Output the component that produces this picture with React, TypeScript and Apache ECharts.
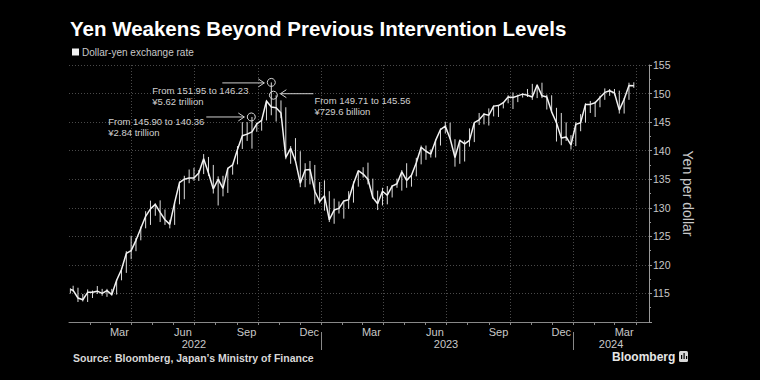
import React, { useEffect, useRef } from "react";
import * as echarts from "echarts";

// Weekly dollar-yen readings (date, weekly low, weekly high, close)
const weekDates = [
  "2022-01-03", "2022-01-07", "2022-01-14", "2022-01-21", "2022-01-28", "2022-02-04", "2022-02-11", "2022-02-18", "2022-02-25",
  "2022-03-04", "2022-03-11", "2022-03-18", "2022-03-25", "2022-04-01", "2022-04-08", "2022-04-15", "2022-04-22", "2022-04-29",
  "2022-05-06", "2022-05-13", "2022-05-20", "2022-05-27", "2022-06-03", "2022-06-10", "2022-06-17", "2022-06-24", "2022-07-01",
  "2022-07-08", "2022-07-15", "2022-07-22", "2022-07-29", "2022-08-05", "2022-08-12", "2022-08-19", "2022-08-26", "2022-09-02",
  "2022-09-09", "2022-09-16", "2022-09-23", "2022-09-30", "2022-10-07", "2022-10-14", "2022-10-21", "2022-10-28", "2022-11-04",
  "2022-11-11", "2022-11-18", "2022-11-25", "2022-12-02", "2022-12-09", "2022-12-16", "2022-12-23", "2022-12-30",
  "2023-01-06", "2023-01-13", "2023-01-20", "2023-01-27", "2023-02-03", "2023-02-10", "2023-02-17", "2023-02-24", "2023-03-03",
  "2023-03-10", "2023-03-17", "2023-03-24", "2023-03-31", "2023-04-07", "2023-04-14", "2023-04-21", "2023-04-28", "2023-05-05",
  "2023-05-12", "2023-05-19", "2023-05-26", "2023-06-02", "2023-06-09", "2023-06-16", "2023-06-23", "2023-06-30", "2023-07-07",
  "2023-07-14", "2023-07-21", "2023-07-28", "2023-08-04", "2023-08-11", "2023-08-18", "2023-08-25", "2023-09-01", "2023-09-08",
  "2023-09-15", "2023-09-22", "2023-09-29", "2023-10-06", "2023-10-13", "2023-10-20", "2023-10-27", "2023-11-03", "2023-11-10",
  "2023-11-17", "2023-11-24", "2023-12-01", "2023-12-08", "2023-12-15", "2023-12-22", "2023-12-29",
  "2024-01-05", "2024-01-12", "2024-01-19", "2024-01-26", "2024-02-02", "2024-02-09", "2024-02-16", "2024-02-23", "2024-03-01",
  "2024-03-08", "2024-03-15", "2024-03-22", "2024-03-29",
];
const weekLow = [
  115.0, 115.3, 113.5, 113.6, 113.5, 114.2, 114.9, 114.6, 114.4,
  114.6, 114.8, 117.3, 118.6, 121.0, 122.4, 124.3, 126.4, 127.0,
  128.6, 127.5, 127.0, 126.4, 127.0, 130.6, 131.5, 134.3, 134.7,
  134.7, 135.9, 135.6, 132.5, 130.4, 132.0, 132.6, 135.8, 137.6,
  140.3, 141.7, 140.35, 143.3, 143.5, 145.3, 146.2, 145.1, 145.7,
  138.5, 137.7, 137.9, 133.6, 133.6, 134.1, 130.6, 130.8,
  129.5, 127.5, 127.2, 129.0, 128.1, 129.8, 130.9, 133.7, 135.3,
  134.1, 131.6, 129.6, 130.4, 130.6, 131.8, 133.5, 133.0, 133.5,
  133.7, 135.5, 137.6, 138.4, 138.8, 138.8, 140.9, 143.0, 142.0,
  137.2, 137.7, 138.1, 140.7, 141.5, 144.5, 144.6, 144.4, 146.0,
  145.9, 147.4, 148.3, 147.3, 148.5, 149.3, 149.4, 148.9, 149.2,
  149.2, 147.2, 146.7, 141.6, 140.95, 141.7, 140.2,
  140.8, 143.4, 144.9, 146.6, 145.9, 147.6, 148.9, 149.6, 149.7,
  146.5, 146.5, 148.9, 151.0,
];
const weekHigh = [
  115.9, 116.35, 116.0, 114.9, 115.7, 115.5, 116.3, 115.8, 115.8,
  115.8, 117.4, 119.4, 122.4, 125.1, 124.7, 126.7, 129.4, 131.25,
  130.8, 131.3, 129.7, 127.9, 130.9, 134.6, 135.6, 136.7, 137.0,
  136.6, 139.4, 138.9, 137.5, 135.5, 135.6, 137.0, 137.7, 140.8,
  145.0, 145.0, 145.9, 144.9, 145.4, 148.9, 151.95, 149.7, 148.8,
  147.6, 140.8, 142.2, 139.9, 137.8, 138.2, 137.5, 134.5,
  134.8, 132.9, 131.6, 131.1, 131.2, 132.9, 134.6, 136.5, 137.1,
  137.9, 135.1, 133.0, 133.5, 133.8, 134.0, 135.1, 136.6, 137.8,
  135.8, 138.75, 140.9, 140.9, 140.2, 141.9, 143.9, 145.07, 144.9,
  142.0, 141.95, 141.8, 143.9, 144.9, 146.6, 146.6, 147.4, 147.9,
  147.95, 148.5, 149.7, 150.2, 149.8, 150.0, 150.8, 151.7, 151.6,
  151.9, 149.8, 149.7, 147.5, 146.6, 144.96, 142.7,
  145.0, 146.4, 148.3, 148.7, 148.6, 149.6, 150.9, 150.8, 150.8,
  150.5, 149.2, 151.9, 151.97,
];
const weekClose = [
  115.7, 115.55, 114.2, 113.9, 115.2, 115.2, 115.4, 115.0, 115.5,
  114.8, 117.3, 119.2, 122.0, 122.5, 124.3, 126.4, 128.5, 129.8,
  130.6, 129.2, 127.9, 127.1, 130.9, 134.4, 135.0, 135.2, 135.2,
  136.1, 138.6, 136.1, 133.3, 135.0, 133.4, 136.9, 137.5, 140.2,
  142.6, 142.9, 143.3, 144.7, 145.3, 148.7, 147.65, 147.5, 146.6,
  138.8, 140.4, 138.2, 134.3, 136.6, 136.7, 132.9, 131.1,
  132.1, 127.9, 129.6, 129.9, 131.2, 131.4, 134.2, 136.5, 135.9,
  135.0, 131.8, 130.7, 132.9, 132.2, 133.8, 134.2, 136.3, 134.8,
  135.7, 137.9, 140.6, 139.9, 139.4, 141.8, 143.7, 144.3, 142.1,
  138.8, 141.8, 141.2, 141.8, 144.9, 145.4, 146.4, 146.2, 147.8,
  147.9, 148.4, 149.4, 149.3, 149.6, 149.9, 149.7, 149.4, 151.5,
  149.6, 149.4, 146.8, 144.9, 142.2, 142.4, 141.0,
  144.6, 144.9, 148.1, 148.1, 148.4, 149.3, 150.2, 150.5, 150.1,
  147.1, 149.0, 151.4, 151.35,
];

const interventions = [
  { date: "2022-09-22", from: 145.9, to: 140.36, amount: "¥2.84 trillion" },
  { date: "2022-10-21", from: 151.95, to: 146.23, amount: "¥5.62 trillion" },
  { date: "2022-10-24", from: 149.71, to: 145.56, amount: "¥729.6 billion" },
];

const monthLabels = ["Mar", "Jun", "Sep", "Dec", "Mar", "Jun", "Sep", "Dec", "Mar"];
const monthLabelDates = [
  "2022-03-15", "2022-06-15", "2022-09-15", "2022-12-15",
  "2023-03-15", "2023-06-15", "2023-09-15", "2023-12-15", "2024-03-15",
];
const yearLabels = ["2022", "2023", "2024"];
const yearLabelDates = ["2022-07-01", "2023-07-01", "2024-02-25"];
const yearBreakDates = ["2023-01-01", "2024-01-01"];
const quarterDates = [
  "2022-04-01", "2022-07-01", "2022-10-01", "2023-01-01", "2023-04-01",
  "2023-07-01", "2023-10-01", "2024-01-01", "2024-04-01",
];
const monthTickDates = [
  "2022-02-01", "2022-03-01", "2022-04-01", "2022-05-01", "2022-06-01", "2022-07-01", "2022-08-01", "2022-09-01",
  "2022-10-01", "2022-11-01", "2022-12-01", "2023-01-01", "2023-02-01", "2023-03-01", "2023-04-01", "2023-05-01",
  "2023-06-01", "2023-07-01", "2023-08-01", "2023-09-01", "2023-10-01", "2023-11-01", "2023-12-01", "2024-01-01",
  "2024-02-01", "2024-03-01", "2024-04-01",
];

const X_MIN = "2022-01-01";
const X_MAX = "2024-04-20";
const Y_MIN = 110;
const Y_MAX = 155;

const ts = (d: string) => Date.parse(d + "T00:00:00Z");

const FONT = "'Liberation Sans', Arial, sans-serif";
const GRID_COLOR = "#4a4a4a";
const TEXT_COLOR = "#c8c8c8";

function buildGraphics(chart: any) {
  const toPx = (d: string, v: number) =>
    chart.convertToPixel({ gridIndex: 0 }, [ts(d), v]) as number[];
  const yBase = toPx(X_MIN, Y_MIN)[1];
  const yTop = toPx(X_MIN, Y_MAX)[1];
  const els: any[] = [];

  quarterDates.forEach((d) => {
    const x = Math.round(toPx(d, Y_MIN)[0]) + 0.5;
    els.push({
      type: "line", silent: true, z: 0,
      shape: { x1: x, y1: yTop, x2: x, y2: yBase },
      style: { stroke: GRID_COLOR, lineWidth: 1, lineDash: [1, 2] },
    });
  });
  monthTickDates.forEach((d) => {
    const x = Math.round(toPx(d, Y_MIN)[0]) + 0.5;
    els.push({
      type: "line", silent: true, z: 1,
      shape: { x1: x, y1: yBase, x2: x, y2: yBase + 3 },
      style: { stroke: "#888", lineWidth: 1 },
    });
  });
  yearBreakDates.forEach((d) => {
    const x = Math.round(toPx(d, Y_MIN)[0]) + 0.5;
    els.push({
      type: "line", silent: true, z: 1,
      shape: { x1: x, y1: yBase + 10, x2: x, y2: yBase + 28 },
      style: { stroke: "#888", lineWidth: 1 },
    });
  });
  monthLabels.forEach((m, i) => {
    const x = toPx(monthLabelDates[i], Y_MIN)[0];
    els.push({
      type: "text", silent: true, z: 1, x, y: yBase + 10,
      style: {
        text: m, fill: TEXT_COLOR, font: `11px ${FONT}`,
        textAlign: "center", align: "center", textVerticalAlign: "middle", verticalAlign: "middle",
      },
    });
  });
  yearLabels.forEach((yl, i) => {
    const x = toPx(yearLabelDates[i], Y_MIN)[0];
    els.push({
      type: "text", silent: true, z: 1, x, y: yBase + 22,
      style: {
        text: yl, fill: TEXT_COLOR, font: `11px ${FONT}`,
        textAlign: "center", align: "center", textVerticalAlign: "middle", verticalAlign: "middle",
      },
    });
  });

  // annotation layout relative to each intervention circle
  const layout = [
    { a0: -45, a1: -7, ady: 0, tdx: -143, tdy: 5 },
    { a0: -49, a1: -7, ady: 0.5, tdx: -119, tdy: 8 },
    { a0: 40, a1: 7, ady: -1.5, tdx: 41, tdy: 5 },
  ];
  interventions.forEach((iv, i) => {
    const [cx, cy] = toPx(iv.date, iv.from);
    const L = layout[i];
    const y = cy + L.ady;
    const x0 = cx + L.a0;
    const x1 = cx + L.a1;
    const dir = Math.sign(x1 - x0);
    els.push({
      type: "line", silent: true, z: 10,
      shape: { x1: x0, y1: y, x2: x1, y2: y },
      style: { stroke: "#cfcfcf", lineWidth: 1 },
    });
    els.push({
      type: "polyline", silent: true, z: 10,
      shape: { points: [[x1 - dir * 6, y - 4], [x1, y], [x1 - dir * 6, y + 4]] },
      style: { stroke: "#cfcfcf", lineWidth: 1, fill: null },
    });
    const lines = [`From ${iv.from.toFixed(2)} to ${iv.to.toFixed(2)}`, iv.amount];
    lines.forEach((t, k) => {
      els.push({
        type: "text", silent: true, z: 10, x: cx + L.tdx, y: cy + L.tdy + k * 11,
        style: {
          text: t, fill: "#d0d0d0", font: `9.5px ${FONT}`,
          textAlign: "left", align: "left", textVerticalAlign: "middle", verticalAlign: "middle",
        },
      });
    });
  });

  // footer
  els.push({
    type: "text", silent: true, x: 73, y: 358,
    style: {
      text: "Source: Bloomberg, Japan’s Ministry of Finance", fill: "#d8d8d8",
      font: `bold 10.5px ${FONT}`, textVerticalAlign: "middle", verticalAlign: "middle",
    },
  });
  els.push({
    type: "text", silent: true, x: 612, y: 357,
    style: {
      text: "Bloomberg", fill: "#e6e6e6", font: `bold 12px ${FONT}`,
      textVerticalAlign: "middle", verticalAlign: "middle",
    },
  });
  els.push({
    type: "rect", silent: true, shape: { x: 679, y: 351, width: 9, height: 11, r: 1.5 },
    style: { fill: "#d8d8d8" },
  });
  [[681, 355, 4], [683.5, 353, 6], [686, 356, 3]].forEach(([x, y, h]) => {
    els.push({
      type: "rect", silent: true, z: 2, shape: { x, y, width: 1.2, height: h },
      style: { fill: "#000" },
    });
  });
  return els;
}

export default function App() {
  const ref = useRef<HTMLDivElement>(null);
  useEffect(() => {
    document.body.style.margin = "0";
    document.body.style.background = "#000";
    const chart = echarts.init(ref.current!, null, { renderer: "svg" });
    const rangeData = weekDates.map((d, i) => [ts(d), weekLow[i], weekHigh[i]]);
    const closeData = weekDates.map((d, i) => [ts(d), weekClose[i]]);
    const option: any = {
      animation: false,
      backgroundColor: "#000",
      title: {
        text: "Yen Weakens Beyond Previous Intervention Levels",
        left: 65,
        top: 13,
        textStyle: { color: "#fff", fontSize: 20.5, fontWeight: "bold", fontFamily: FONT },
      },
      legend: {
        left: 67,
        top: 42,
        icon: "rect",
        itemWidth: 7,
        itemHeight: 7,
        itemGap: 4,
        data: ["Dollar-yen exchange rate"],
        textStyle: { color: TEXT_COLOR, fontSize: 10, fontFamily: FONT, padding: [0, 0, 0, -2] },
      },
      grid: { left: 69, right: 111, top: 65, bottom: 58 },
      xAxis: {
        type: "time",
        min: ts(X_MIN),
        max: ts(X_MAX),
        axisLine: { show: true, lineStyle: { color: "#888", width: 1 } },
        axisTick: { show: false },
        axisLabel: { show: false },
        splitLine: { show: false },
      },
      yAxis: {
        type: "value",
        position: "right",
        min: Y_MIN,
        max: Y_MAX,
        interval: 5,
        name: "Yen per dollar",
        nameLocation: "middle",
        nameRotate: -90,
        nameGap: 20,
        nameTextStyle: { color: TEXT_COLOR, fontSize: 14, fontFamily: FONT },
        axisLine: { show: true, lineStyle: { color: "#999", width: 1 } },
        axisTick: { show: true, length: 3, lineStyle: { color: "#999" } },
        minorTick: { show: true, splitNumber: 2, length: 2, lineStyle: { color: "#999" } },
        axisLabel: {
          color: TEXT_COLOR, fontSize: 10.5, fontFamily: FONT, margin: 4,
          showMinLabel: false,
        },
        splitLine: { show: true, lineStyle: { color: GRID_COLOR, type: [1, 2], width: 1 } },
      },
      series: [
        {
          type: "custom",
          name: "range",
          silent: true,
          z: 3,
          data: rangeData,
          encode: { x: 0, y: [1, 2] },
          renderItem: (params: any, api: any) => {
            const x = api.value(0);
            const lo = api.coord([x, api.value(1)]);
            const hi = api.coord([x, api.value(2)]);
            return {
              type: "line",
              shape: { x1: lo[0], y1: lo[1], x2: hi[0], y2: hi[1] },
              style: { stroke: "#dcdcdc", lineWidth: 1 },
            };
          },
        },
        {
          type: "line",
          name: "Dollar-yen exchange rate",
          color: "#f2f2f2",
          z: 4,
          symbol: "none",
          data: closeData,
          lineStyle: { color: "#f2f2f2", width: 1.5 },
          markPoint: {
            silent: true,
            symbol: "circle",
            symbolSize: 8,
            itemStyle: { color: "rgba(0,0,0,0)", borderColor: "#d8d8d8", borderWidth: 1 },
            label: { show: false },
            data: interventions.map((iv) => ({ coord: [ts(iv.date), iv.from] })),
          },
        },
      ],
    };
    chart.setOption(option);
    chart.setOption({ graphic: { elements: buildGraphics(chart) } });
    return () => chart.dispose();
  }, []);
  return (
    <div
      ref={ref}
      style={{ position: "absolute", left: 0, top: 0, width: 760, height: 380, background: "#000" }}
    />
  );
}
